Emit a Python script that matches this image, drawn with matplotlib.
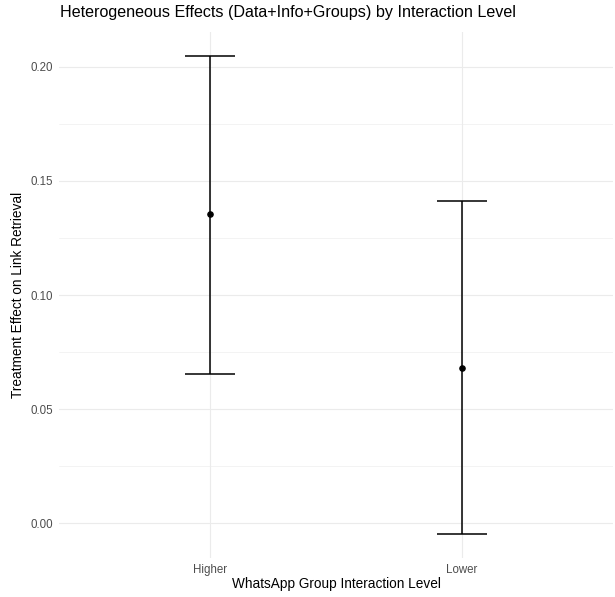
import matplotlib.pyplot as plt
from matplotlib.ticker import MultipleLocator

# values
levels = ["Higher", "Lower"]
estimate = [0.1355, 0.0682]
ci_low = [0.0655, -0.0048]
ci_high = [0.2048, 0.1411]


def main():
    plt.rcParams["font.family"] = ["Liberation Sans", "DejaVu Sans"]
    fig = plt.figure(figsize=(6.15, 5.97), dpi=100)
    ax = fig.add_axes([0.0959, 0.0653, 0.9008, 0.8811])

    xs = list(range(len(levels)))
    err_lo = [e - lo for e, lo in zip(estimate, ci_low)]
    err_hi = [hi - e for e, hi in zip(estimate, ci_high)]
    ax.errorbar(xs, estimate, yerr=[err_lo, err_hi], fmt="none",
                ecolor="black", elinewidth=1.1, capsize=18, capthick=1.1,
                zorder=3)
    ax.scatter(xs, estimate, s=14, color="black", zorder=4)

    ax.set_xlim(-0.6, 1.6)
    span = max(ci_high) - min(ci_low)
    ax.set_ylim(min(ci_low) - 0.05 * span, max(ci_high) + 0.05 * span)
    ax.set_xticks(xs)
    ax.set_xticklabels(levels)
    ax.yaxis.set_major_locator(MultipleLocator(0.05))
    ax.yaxis.set_minor_locator(MultipleLocator(0.025))
    ax.yaxis.set_major_formatter(plt.FuncFormatter(lambda v, p: f"{v:.2f}"))

    for s in ax.spines.values():
        s.set_visible(False)
    ax.tick_params(which="both", length=0, labelsize=8.3, colors="#4d4d4d",
                   pad=4)
    ax.grid(True, which="major", color="#ebebeb", linewidth=0.8)
    ax.grid(True, which="minor", axis="y", color="#ebebeb", linewidth=0.4)
    ax.set_axisbelow(True)

    ax.set_xlabel("WhatsApp Group Interaction Level", fontsize=9.8,
                  labelpad=1)
    ax.set_ylabel("Treatment Effect on Link Retrieval", fontsize=9.8,
                  labelpad=4)
    fig.text(0.0976, 0.979, "Heterogeneous Effects (Data+Info+Groups) by Interaction Level",
             fontsize=11.6, ha="left", va="center")

    fig.savefig("out.png", dpi=100)


if __name__ == "__main__":
    main()
